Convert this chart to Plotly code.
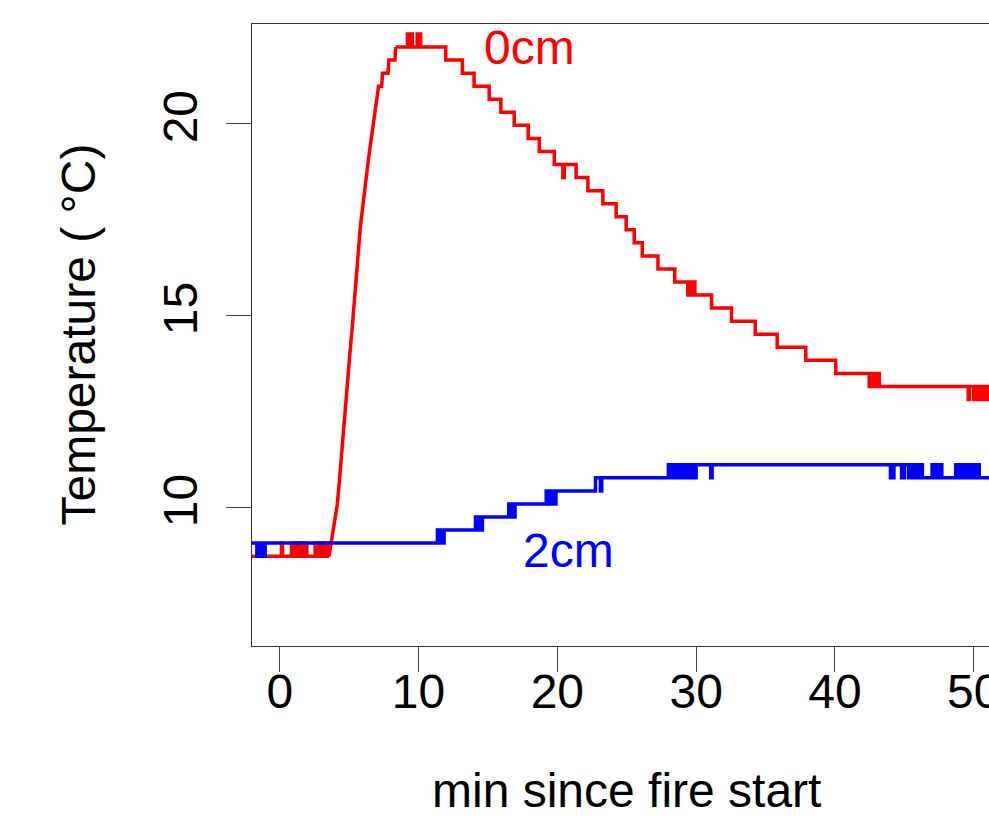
import plotly.graph_objects as go

# ---- data (minutes since fire start, temperature in °C) ----
# 0 cm sensor: baseline before the fire (step readings)
red_base_t = [-2.00, 0.12, 0.20, 0.85, 0.92, 1.05, 1.12, 1.25, 1.32, 1.45, 1.52, 1.65, 1.72, 1.85, 1.95,
              2.55, 2.62, 2.72, 2.80, 2.90, 2.98, 3.08, 3.15, 3.25, 3.35, 3.45, 3.55]
red_base_v = [8.74, 9.08, 8.74, 9.08, 8.74, 9.08, 8.74, 9.08, 8.74, 9.08, 8.74, 9.08, 8.74, 9.08, 8.74,
              9.08, 8.74, 9.08, 8.74, 9.08, 8.74, 9.08, 8.74, 9.08, 8.74, 9.08, 8.74]
# 0 cm sensor: fast rise after ignition
red_rise_t = [3.55, 3.70, 3.85, 4.00, 4.15, 4.30, 4.45, 4.60, 4.75, 4.90, 5.05, 5.20, 5.35, 5.50, 5.65,
              5.80, 5.95, 6.10, 6.25, 6.40, 6.55, 6.70, 6.85, 7.00, 7.12, 7.35, 7.40, 7.80, 7.86, 8.30, 8.35]
red_rise_v = [8.74, 9.08, 9.42, 9.76, 10.10, 10.70, 11.40, 12.00, 12.60, 13.30, 14.00, 14.60, 15.20, 15.90, 16.60,
              17.30, 17.80, 18.30, 18.70, 19.10, 19.50, 19.90, 20.30, 20.64, 20.98, 20.98, 21.32, 21.32, 21.66, 21.66, 22.00]
# 0 cm sensor: peak and slow cooling (step readings)
red_cool_t = [8.35, 9.20, 9.30, 9.40, 9.55, 9.90, 9.98, 10.06, 10.15,
              11.96, 13.16, 14.00, 15.09, 15.93, 16.89, 17.90, 18.70, 19.78, 20.40, 20.50, 21.35,
              22.20, 23.28, 24.24, 24.96, 25.54, 26.12, 27.25, 28.46, 29.40, 29.50, 29.60, 29.70,
              29.91, 31.11, 32.55, 34.26, 35.84, 37.90, 40.06, 42.47, 42.57, 42.67, 42.80, 42.95,
              43.05, 43.20, 49.60, 49.70, 50.00, 50.10, 50.20, 50.30, 50.40, 50.50, 50.60, 50.70,
              50.80, 50.90, 51.00, 51.30]
red_cool_v = [22.00, 22.34, 22.00, 22.34, 22.00, 22.34, 22.00, 22.34, 22.00,
              21.66, 21.32, 20.98, 20.64, 20.30, 19.96, 19.62, 19.28, 18.94, 18.60, 18.94, 18.60,
              18.26, 17.92, 17.58, 17.24, 16.90, 16.56, 16.22, 15.88, 15.54, 15.88, 15.54, 15.88,
              15.54, 15.20, 14.86, 14.52, 14.18, 13.84, 13.50, 13.16, 13.50, 13.16, 13.50, 13.16,
              13.50, 13.16, 12.82, 13.16, 12.82, 13.16, 12.82, 13.16, 12.82, 13.16, 12.82, 13.16,
              12.82, 13.16, 12.82, 12.82]

# 2 cm sensor (step readings)
blue_t = [-2.00, -1.65, -1.55, -1.40, -1.30, -1.15, -1.05,
          11.36, 11.45, 11.55, 11.65, 11.84,
          14.10, 14.20, 14.35, 14.45, 14.60,
          16.50, 16.60, 16.75, 16.85, 16.95,
          19.20, 19.30, 19.45, 19.55, 19.70, 19.80, 19.90,
          22.75, 23.10, 23.20,
          28.00, 28.10, 28.25, 28.35, 28.50, 28.60, 28.80, 28.90, 29.10, 29.20, 29.40, 29.50,
          29.70, 29.80, 30.00, 31.05, 31.15,
          44.00, 44.25, 44.80, 45.00, 45.30, 45.45, 45.60, 45.75, 45.90, 46.05, 46.30,
          47.00, 47.10, 47.30, 47.40, 47.55, 47.70, 48.70, 48.85, 49.10, 49.25, 49.50, 49.65,
          49.85, 50.05, 50.25, 50.40, 51.30]
blue_v = [9.08, 8.74, 9.08, 8.74, 9.08, 8.74, 9.08,
          9.42, 9.08, 9.42, 9.08, 9.42,
          9.76, 9.42, 9.76, 9.42, 9.76,
          10.10, 9.76, 10.10, 9.76, 10.10,
          10.44, 10.10, 10.44, 10.10, 10.44, 10.10, 10.44,
          10.78, 10.44, 10.78,
          11.12, 10.78, 11.12, 10.78, 11.12, 10.78, 11.12, 10.78, 11.12, 10.78, 11.12, 10.78,
          11.12, 10.78, 11.12, 10.78, 11.12,
          10.78, 11.12, 10.78, 11.12, 10.78, 11.12, 10.78, 11.12, 10.78, 11.12, 10.78,
          11.12, 10.78, 11.12, 10.78, 11.12, 10.78, 11.12, 10.78, 11.12, 10.78, 11.12, 10.78,
          11.12, 10.78, 11.12, 10.78, 10.78]

x_ticks = [0, 10, 20, 30, 40, 50]
y_ticks = [10, 15, 20]
labels = ["0cm", "2cm"]
label_pos = [(18.0, 22.0), (20.8, 8.9)]

FONT = "Liberation Sans, Arial, sans-serif"
RED, BLUE = "#FF0000", "#0000FF"
LW = 3.5

ML, MT, MB = 252, 24, 173
W, H = 989, 819
PW = W - ML

fig = go.Figure()
fig.add_trace(go.Scatter(x=red_base_t, y=red_base_v, mode="lines", line=dict(color=RED, width=LW, shape="hv"),
                         showlegend=False, hoverinfo="skip"))
fig.add_trace(go.Scatter(x=red_rise_t, y=red_rise_v, mode="lines", line=dict(color=RED, width=LW, shape="linear"),
                         showlegend=False, hoverinfo="skip"))
fig.add_trace(go.Scatter(x=red_cool_t, y=red_cool_v, mode="lines", line=dict(color=RED, width=LW, shape="hv"),
                         showlegend=False, hoverinfo="skip"))
fig.add_trace(go.Scatter(x=blue_t, y=blue_v, mode="lines", line=dict(color=BLUE, width=LW, shape="hv"),
                         showlegend=False, hoverinfo="skip"))

for txt, (lx, ly), col in zip(labels, label_pos, [RED, BLUE]):
    fig.add_annotation(x=lx, y=ly, text=txt, showarrow=False, xref="x", yref="y",
                       font=dict(family=FONT, size=48, color=col))

fig.add_annotation(x=(626.5 - ML) / PW, y=0, xref="paper", yref="paper", text="min since fire start",
                   showarrow=False, xanchor="center", yanchor="top", yshift=-116,
                   font=dict(family=FONT, size=48, color="black"))
fig.add_annotation(x=(77.5 - ML) / PW, y=0.5, xref="paper", yref="paper", text="Temperature ( °C)",
                   showarrow=False, xanchor="center", yanchor="middle", textangle=-90,
                   font=dict(family=FONT, size=48, color="black"))

fig.update_xaxes(range=[-2, 51.1], tickvals=x_ticks, ticktext=[str(v) for v in x_ticks],
                 ticks="outside", ticklen=25, tickwidth=1.3, tickcolor="#444",
                 showline=True, linecolor="#333", linewidth=1.3, mirror=True, automargin=False,
                 showgrid=False, zeroline=False, ticklabeloverflow="allow", ticklabelstandoff=-22,
                 tickfont=dict(family=FONT, size=48, color="black"))
fig.update_yaxes(range=[6.4, 22.6], tickvals=y_ticks, ticktext=[str(v) for v in y_ticks],
                 ticks="outside", ticklen=25, tickwidth=1.3, tickcolor="#444",
                 showline=True, linecolor="#333", linewidth=1.3, mirror=False, automargin=False,
                 showgrid=False, zeroline=False, tickangle=-90, ticklabelstandoff=10,
                 ticklabeloverflow="allow",
                 tickfont=dict(family=FONT, size=48, color="black"))

fig.update_layout(width=W, height=H, autosize=False, margin=dict(l=ML, r=0, t=MT, b=MB, pad=0),
                  paper_bgcolor="white", plot_bgcolor="white")

post = ("document.documentElement.style.overflow='hidden';"
        "document.body.style.margin='0px'; document.body.style.overflow='hidden';")

fig.write_html("out.html", post_script=post,
               config={"displayModeBar": False, "responsive": False})
